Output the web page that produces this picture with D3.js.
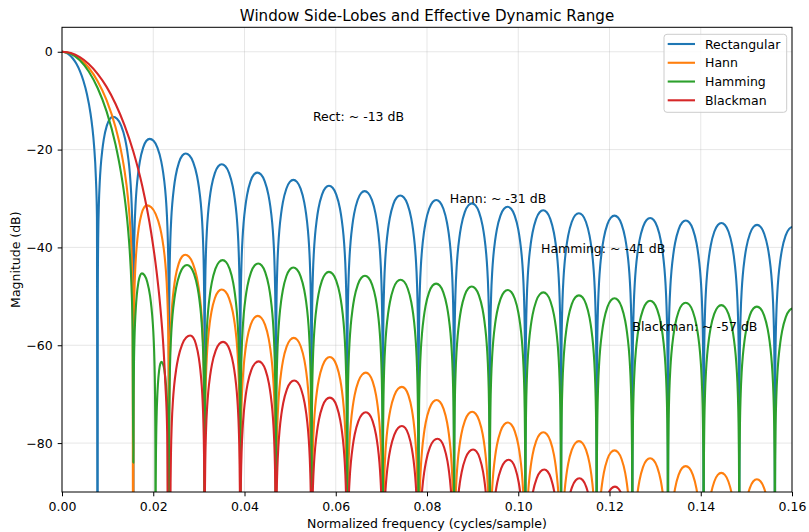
<!DOCTYPE html>
<html>
<head>
<meta charset="utf-8">
<script src="https://cdn.jsdelivr.net/npm/d3@7"></script>
<style>
  body { margin: 0; background: #fff; }
  svg { display: block; }
  text { font-family: "DejaVu Sans", sans-serif; }
</style>
</head>
<body>
<svg id="chart" width="809" height="532"></svg>
<script>
// ---------------- data ----------------
const xTicks = [0, 0.02, 0.04, 0.06, 0.08, 0.10, 0.12, 0.14, 0.16];
const yTicks = [0, -20, -40, -60, -80];
const windowNames = ["Rectangular", "Hann", "Hamming", "Blackman"];
const windowColors = ["#1f77b4", "#ff7f0e", "#2ca02c", "#d62728"];

// main lobes: [frequency, dB]
const rectMain = [[0,0],[0.00078,-0.14],[0.00156,-0.58],[0.00234,-1.33],[0.00313,-2.42],[0.00391,-3.92],[0.00469,-5.94],[0.00547,-8.69],[0.00625,-12.62],[0.00664,-15.39],[0.00703,-19.23],[0.00742,-25.6],[0.00766,-33.8],[0.00781,-150]];
const hannMain = [[0,0],[0.00195,-0.35],[0.00391,-1.42],[0.00586,-3.27],[0.00781,-6.02],[0.00977,-9.89],[0.01172,-15.4],[0.01289,-20.0],[0.01367,-24.1],[0.01445,-29.8],[0.01484,-34.1],[0.01523,-40.8],[0.01547,-49.2],[0.01563,-150]];
const hammingMain = [[0,0],[0.00195,-0.43],[0.00391,-1.75],[0.00586,-4.03],[0.00781,-7.41],[0.00977,-12.18],[0.01172,-18.92],[0.01289,-24.51],[0.01367,-29.35],[0.01445,-35.97],[0.01484,-40.69],[0.01523,-48.0],[0.01547,-56.8],[0.01563,-84]];
const blackmanMain = [[0,0],[0.00195,-0.27],[0.00391,-1.10],[0.00586,-2.50],[0.00781,-4.51],[0.00977,-7.18],[0.01172,-10.62],[0.01367,-14.96],[0.01563,-20.4],[0.01758,-27.4],[0.01953,-36.9],[0.0207,-44.7],[0.02148,-51.5],[0.02227,-61.0],[0.02266,-68.0],[0.02305,-77.7],[0.02344,-150]];

// side-lobe nulls (frequency) and side-lobe peaks [frequency, dB]
const rectNulls = [0.00781,0.01563,0.02344,0.03125,0.03906,0.04688,0.05469,0.0625,0.07031,0.07813,0.08594,0.09375,0.10156,0.10938,0.11719,0.125,0.13281,0.14063,0.14844,0.15625,0.16406];
const rectPeaks = [[0.01117,-13.3],[0.01922,-17.8],[0.02711,-20.8],[0.035,-23.0],[0.04281,-24.7],[0.0507,-26.2],[0.05852,-27.4],[0.06633,-28.5],[0.07414,-29.4],[0.08203,-30.3],[0.08984,-31.0],[0.09766,-31.7],[0.10547,-32.4],[0.11328,-33.0],[0.12109,-33.5],[0.12891,-34.0],[0.13672,-34.5],[0.14453,-35.0],[0.15234,-35.4],[0.16016,-35.8]];

const hannNulls = [0.01563,0.02344,0.03125,0.03906,0.04688,0.05469,0.0625,0.07031,0.07813,0.08594,0.09375,0.10156,0.10938,0.11719,0.125,0.13281,0.14063,0.14844,0.15625];
const hannPeaks = [[0.0186,-31.4],[0.027,-41.5],[0.035,-48.6],[0.0429,-54.0],[0.0508,-58.5],[0.0587,-62.4],[0.0666,-65.6],[0.0745,-68.5],[0.0821,-71.2],[0.0899,-73.6],[0.0977,-75.8],[0.1055,-77.8],[0.1133,-79.6],[0.1211,-81.5],[0.1289,-83.1],[0.1367,-84.7],[0.1445,-86.1],[0.1523,-87.4]];

const hammingNulls = [0.01563,0.0205,0.02344,0.03125,0.03906,0.04688,0.05469,0.0625,0.07031,0.07813,0.08594,0.09375,0.10156,0.10938,0.11719,0.125,0.13281,0.14063,0.14844,0.15625,0.16406];
const hammingPeaks = [[0.0175,-45.3],[0.0218,-63.4],[0.0274,-43.6],[0.0352,-42.6],[0.043,-43.3],[0.0507,-44.1],[0.0585,-45.0],[0.0664,-45.8],[0.0742,-46.6],[0.082,-47.4],[0.0898,-48.0],[0.0977,-48.7],[0.1055,-49.2],[0.1133,-49.8],[0.1211,-50.4],[0.1289,-50.9],[0.1367,-51.3],[0.1445,-51.8],[0.1523,-52.1],[0.1602,-52.5]];

const blackmanNulls = [0.02371,0.03125,0.03906,0.04688,0.05469,0.0625,0.07031,0.07813,0.08594,0.09375,0.10156,0.10938,0.11719,0.125];
const blackmanPeaks = [[0.0281,-58.0],[0.0353,-59.3],[0.0431,-63.3],[0.0509,-67.2],[0.0587,-70.7],[0.0666,-73.7],[0.0745,-76.5],[0.0823,-79.1],[0.0901,-81.3],[0.0979,-83.4],[0.1057,-85.4],[0.1134,-87.2],[0.1212,-88.9]];

// shape of one side lobe, read off a rectangular lobe:
// [position from null to peak (0..0.5), dB below the lobe peak]
const lobeProfile = [[0.005,-36.1],[0.01,-30.1],[0.02,-24.0],[0.04,-18.0],[0.07,-13.2],[0.1,-10.2],[0.15,-6.9],[0.2,-4.6],[0.3,-1.8],[0.4,-0.4],[0.5,0]];
const nullFloor = -200;

const annotations = [
  {label: "Rect: ~ -13 dB", x: 0.055, y: -14.1},
  {label: "Hann: ~ -31 dB", x: 0.085, y: -31.0},
  {label: "Hamming: ~ -41 dB", x: 0.105, y: -41.1},
  {label: "Blackman: ~ -57 dB", x: 0.125, y: -57.1}
];

// ---------------- layout ----------------
const W = 809, H = 532;
const M = {left: 62, right: 792, top: 27.3, bottom: 492};
const x = d3.scaleLinear().domain([0, 0.16]).range([M.left, M.right]);
const y = d3.scaleLinear().domain([-90, 5]).range([M.bottom, M.top]);

function buildSeries(main, nulls, peaks) {
  const pts = main.map(d => d.slice());
  peaks.forEach(([pf, pdb], i) => {
    const a = nulls[i], b = nulls[i + 1];
    lobeProfile.forEach(([t, d]) => pts.push([a + (t / 0.5) * (pf - a), pdb + d]));
    for (let j = lobeProfile.length - 2; j >= 0; j--) {
      const [t, d] = lobeProfile[j];
      pts.push([b - (t / 0.5) * (b - pf), pdb + d]);
    }
    pts.push([b, nullFloor]);
  });
  return pts;
}

const series = [
  buildSeries(rectMain, rectNulls, rectPeaks),
  buildSeries(hannMain, hannNulls, hannPeaks),
  buildSeries(hammingMain, hammingNulls, hammingPeaks),
  buildSeries(blackmanMain, blackmanNulls, blackmanPeaks)
];

const svg = d3.select("#chart");
svg.append("rect").attr("width", W).attr("height", H).attr("fill", "#fff");

svg.append("defs").append("clipPath").attr("id", "plotclip")
  .append("rect").attr("x", M.left).attr("y", M.top)
  .attr("width", M.right - M.left).attr("height", M.bottom - M.top);

// grid
const grid = svg.append("g");
grid.selectAll("line.gx").data(xTicks).join("line")
  .attr("x1", d => x(d)).attr("x2", d => x(d))
  .attr("y1", M.top).attr("y2", M.bottom)
  .attr("stroke", "#b0b0b0").attr("stroke-opacity", 0.3).attr("stroke-width", 1);
grid.selectAll("line.gy").data(yTicks).join("line")
  .attr("x1", M.left).attr("x2", M.right)
  .attr("y1", d => y(d)).attr("y2", d => y(d))
  .attr("stroke", "#b0b0b0").attr("stroke-opacity", 0.3).attr("stroke-width", 1);

// lines
const line = d3.line()
  .x(d => x(d[0]))
  .y(d => y(d[1]))
  .curve(d3.curveMonotoneX);

const lines = svg.append("g").attr("clip-path", "url(#plotclip)");
series.forEach((pts, i) => {
  lines.append("path").datum(pts)
    .attr("d", line)
    .attr("fill", "none")
    .attr("stroke", windowColors[i])
    .attr("stroke-width", 2.1)
    .attr("stroke-linejoin", "round")
    .attr("stroke-linecap", "butt");
});

// axes
const fmtY = d => d < 0 ? "\u2212" + Math.abs(d) : String(d);
const xAxis = svg.append("g").attr("transform", `translate(0,${M.bottom})`)
  .call(d3.axisBottom(x).tickValues(xTicks).tickFormat(d3.format(".2f")).tickSize(4.3).tickPadding(5.5));
const yAxis = svg.append("g").attr("transform", `translate(${M.left},0)`)
  .call(d3.axisLeft(y).tickValues(yTicks).tickFormat(fmtY).tickSize(4.3).tickPadding(5));
[xAxis, yAxis].forEach(g => {
  g.select(".domain").remove();
  g.selectAll(".tick line").attr("stroke", "#000").attr("stroke-width", 1);
  g.selectAll(".tick text").attr("fill", "#000")
    .style("font-family", '"DejaVu Sans", sans-serif').style("font-size", "12.5px");
});

// spines
svg.append("rect")
  .attr("x", M.left).attr("y", M.top)
  .attr("width", M.right - M.left).attr("height", M.bottom - M.top)
  .attr("fill", "none").attr("stroke", "#000").attr("stroke-width", 1);

// annotations
svg.append("g").selectAll("text").data(annotations).join("text")
  .attr("x", d => x(d.x)).attr("y", d => y(d.y))
  .attr("font-size", "12.5px").attr("fill", "#000")
  .text(d => d.label);

// title & axis labels
svg.append("text").attr("x", (M.left + M.right) / 2).attr("y", 20.5)
  .attr("text-anchor", "middle").attr("font-size", "15.1px").attr("fill", "#000")
  .text("Window Side-Lobes and Effective Dynamic Range");
svg.append("text").attr("x", (M.left + M.right) / 2).attr("y", 527.5)
  .attr("text-anchor", "middle").attr("font-size", "12.5px").attr("fill", "#000")
  .text("Normalized frequency (cycles/sample)");
svg.append("text")
  .attr("transform", `translate(19.5,${(M.top + M.bottom) / 2}) rotate(-90)`)
  .attr("text-anchor", "middle").attr("font-size", "12.5px").attr("fill", "#000")
  .text("Magnitude (dB)");

// legend
const lg = svg.append("g");
lg.append("rect").attr("x", 664).attr("y", 34.3).attr("width", 122.7).attr("height", 78)
  .attr("rx", 3).attr("fill", "#fff").attr("fill-opacity", 0.8)
  .attr("stroke", "#cccccc").attr("stroke-width", 1);
const rowY = d3.scalePoint().domain(windowNames).range([44, 100.3]);
windowNames.forEach((name, i) => {
  const ry = rowY(name);
  lg.append("line").attr("x1", 667.7).attr("x2", 695).attr("y1", ry).attr("y2", ry)
    .attr("stroke", windowColors[i]).attr("stroke-width", 2.1);
  lg.append("text").attr("x", 705).attr("y", ry + 4.5)
    .attr("font-size", "12.5px").attr("fill", "#000").text(name);
});
</script>
</body>
</html>
